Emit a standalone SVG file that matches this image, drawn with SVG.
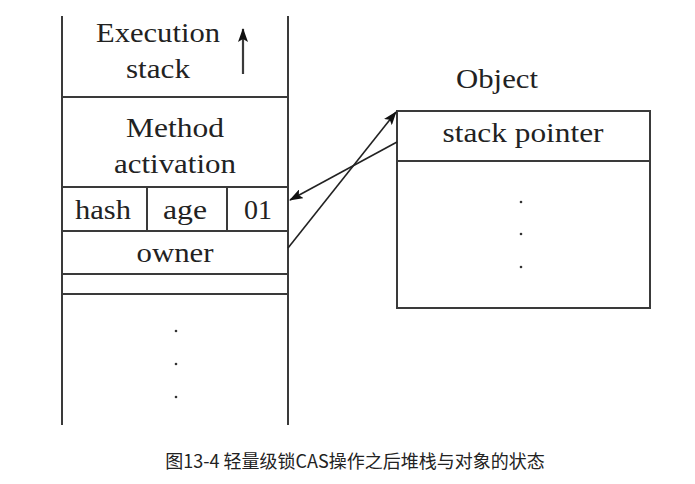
<svg xmlns="http://www.w3.org/2000/svg" width="695" height="484" viewBox="0 0 695 484">
<defs>
<style>
.ln{stroke:#3a3a3a;stroke-width:2;fill:none}
.t{font-family:"Liberation Serif","Times New Roman",serif;font-size:27px;fill:#222;text-anchor:middle}
.dot{fill:#333}
.cap{font-family:"Noto Sans CJK SC","Microsoft YaHei",sans-serif;font-size:18px;fill:#222;text-anchor:middle}
</style>
<marker id="ah" viewBox="0 0 14 10" refX="13" refY="5" markerWidth="14" markerHeight="10" markerUnits="userSpaceOnUse" orient="auto">
<path d="M0,0 L14,5 L0,10 L3,5 Z" fill="#111"/>
</marker>
</defs>
<rect width="695" height="484" fill="#fff"/>
<g id="stack">
<path class="ln" d="M62,16 V425 M288,16 V425 M62,97 H288 M62,187 H288 M62,231 H288 M62,274 H288 M62,294 H288 M147,187 V231 M227,187 V231"/>
<text class="t" x="158" y="42" textLength="124" lengthAdjust="spacingAndGlyphs">Execution</text>
<text class="t" x="158" y="78" textLength="64" lengthAdjust="spacingAndGlyphs">stack</text>
<path class="ln" style="stroke-width:2.2" d="M243,74 V29" marker-end="url(#ah)"/>
<text class="t" x="175" y="137" textLength="98" lengthAdjust="spacingAndGlyphs">Method</text>
<text class="t" x="175" y="173" textLength="122" lengthAdjust="spacingAndGlyphs">activation</text>
<text class="t" x="103" y="219" textLength="56" lengthAdjust="spacingAndGlyphs">hash</text>
<text class="t" x="185" y="219" textLength="44" lengthAdjust="spacingAndGlyphs">age</text>
<text class="t" x="258" y="219" textLength="28" lengthAdjust="spacingAndGlyphs">01</text>
<text class="t" x="175" y="262" textLength="77" lengthAdjust="spacingAndGlyphs">owner</text>
<circle class="dot" cx="176" cy="331" r="1.3"/>
<circle class="dot" cx="176" cy="364" r="1.3"/>
<circle class="dot" cx="176" cy="397" r="1.3"/>
</g>
<g id="object">
<text class="t" x="497" y="88" textLength="82" lengthAdjust="spacingAndGlyphs">Object</text>
<rect class="ln" x="397" y="111" width="253" height="197"/>
<path class="ln" d="M397,161 H650"/>
<text class="t" x="523" y="142" textLength="161" lengthAdjust="spacingAndGlyphs">stack pointer</text>
<circle class="dot" cx="521" cy="202" r="1.3"/>
<circle class="dot" cx="521" cy="234" r="1.3"/>
<circle class="dot" cx="521" cy="267" r="1.3"/>
</g>
<g id="connectors">
<path class="ln" style="stroke-width:1.6;stroke:#222" d="M288,248 L396,112" marker-end="url(#ah)"/>
<path class="ln" style="stroke-width:1.6;stroke:#222" d="M397,142 L290,200" marker-end="url(#ah)"/>
</g>
<text class="cap" x="355" y="468">图13-4 轻量级锁CAS操作之后堆栈与对象的状态</text>
</svg>
